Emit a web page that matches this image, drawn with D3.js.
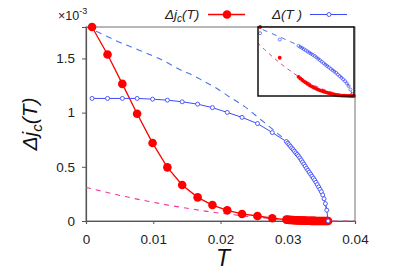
<!DOCTYPE html>
<html>
<head>
<meta charset="utf-8">
<script src="https://cdn.jsdelivr.net/npm/d3@7"></script>
<style>
  body { margin: 0; background: #fff; }
  svg { font-family: "Liberation Sans", Arial, sans-serif; }
  .axis text { font-size: 13.5px; fill: #222; }
  .axis path, .axis line { stroke: #555; }
</style>
</head>
<body>
<svg id="chart" width="395" height="276"></svg>
<script>
// temperatures of the sparse points and of the dense run close to Tc
var tSparse = [0.0009, 0.0032, 0.0054, 0.0076, 0.0099, 0.0121, 0.0143, 0.0166, 0.0188, 0.0210, 0.0232, 0.0255, 0.0277];
var tDense = [0.0298, 0.0300, 0.0302, 0.0304, 0.0306, 0.0308, 0.0310, 0.0312, 0.0314, 0.0316,
              0.0318, 0.0320, 0.0322, 0.0324, 0.0326, 0.0328, 0.0330, 0.0332, 0.0334, 0.0336,
              0.0338, 0.0340, 0.0342, 0.0344, 0.0346, 0.0348, 0.0350, 0.0352, 0.0354, 0.0356,
              0.0358, 0.0360];

// Δj_c(T), units of 1e-3
var jcSparse = [1.79, 1.536, 1.265, 0.989, 0.719, 0.495, 0.332, 0.218, 0.147, 0.099, 0.065, 0.046, 0.0255];
var jcDense = [0.0128, 0.0117, 0.0107, 0.0098, 0.0090, 0.0081, 0.0073, 0.0066, 0.0060, 0.0054,
               0.0048, 0.0043, 0.0038, 0.0034, 0.0030, 0.0026, 0.0023, 0.0019, 0.0016, 0.0013,
               0.0010, 0.0007, 0.0005, 0.0004, 0.0003, 0.0002, 0.0002, 0.0001, 0.0001, 0.0000,
               0.0000, 0.0000];

// Δ(T)
var gapSparse = [1.131, 1.131, 1.131, 1.131, 1.124, 1.115, 1.100, 1.078, 1.046, 1.002, 0.956, 0.899, 0.816];
var gapDense = [0.733, 0.718, 0.704, 0.689, 0.674, 0.659, 0.644, 0.629, 0.614, 0.600,
                0.582, 0.563, 0.544, 0.525, 0.506, 0.486, 0.468, 0.450, 0.432, 0.414,
                0.396, 0.378, 0.357, 0.336, 0.314, 0.292, 0.270, 0.240, 0.205, 0.160,
                0.100, 0.000];

// blue dashed curve
var tBlueFit = [0, 0.0026, 0.0048, 0.0072, 0.0095, 0.0118, 0.0140, 0.0163, 0.0172, 0.0190, 0.0213,
                0.0236, 0.0258, 0.0280, 0.0296, 0.0310, 0.0320, 0.0330, 0.0340, 0.0350, 0.0355, 0.0360];
var blueFit = [1.79, 1.719, 1.654, 1.594, 1.535, 1.470, 1.396, 1.332, 1.300, 1.240, 1.147,
               1.055, 0.945, 0.834, 0.747, 0.650, 0.570, 0.475, 0.385, 0.275, 0.190, 0];

// pink dashed curve
var tPinkFit = [0, 0.002, 0.004, 0.006, 0.008, 0.010, 0.012, 0.014, 0.016, 0.018, 0.020,
                0.022, 0.024, 0.026, 0.028, 0.030, 0.032, 0.034, 0.036, 0.038, 0.040];
var pinkFit = [0.310, 0.280, 0.251, 0.223, 0.197, 0.173, 0.149, 0.128, 0.108, 0.089, 0.072,
               0.057, 0.043, 0.031, 0.0207, 0.0123, 0.0059, 0.0017, 0, 0, 0];

var xTicks = [0, 0.01, 0.02, 0.03, 0.04];
var xTickLabels = ['0', '0.01', '0.02', '0.03', '0.04'];
var yTicks = [0, 0.5, 1, 1.5];
var yTickLabels = ['0', '0.5', '1', '1.5'];

var red = '#ff0000';
var blue = '#3d4cf5';
var blueDash = '#4a73ea';
var pink = '#f2389a';

var svg = d3.select('#chart');

var x = d3.scaleLinear().domain([0, 0.04]).range([86, 355]);
var y = d3.scaleLinear().domain([0, 1.79]).range([221, 27]);

var jcData = tSparse.concat(tDense).map((t, i) => [t, jcSparse.concat(jcDense)[i]]);
var gapData = tSparse.concat(tDense).map((t, i) => [t, gapSparse.concat(gapDense)[i]]);
var blueFitData = tBlueFit.map((t, i) => [t, blueFit[i]]);
var pinkFitData = tPinkFit.map((t, i) => [t, pinkFit[i]]);

// frame
svg.append('rect')
  .attr('x', 86).attr('y', 27)
  .attr('width', 269).attr('height', 194)
  .attr('fill', 'none')
  .attr('stroke', '#888')
  .attr('stroke-width', 1.2);

svg.append('g')
  .attr('class', 'axis')
  .attr('transform', 'translate(0,221)')
  .call(d3.axisBottom(x).tickValues(xTicks).tickSize(3).tickPadding(10)
    .tickFormat((d, i) => xTickLabels[i]));

svg.append('g')
  .attr('class', 'axis')
  .attr('transform', 'translate(86,0)')
  .call(d3.axisLeft(y).tickValues(yTicks).tickSize(4).tickPadding(7)
    .tickFormat((d, i) => yTickLabels[i]));

svg.selectAll('.axis .domain').attr('stroke', '#444').attr('stroke-width', 1.2);

var line = d3.line().x(d => x(d[0])).y(d => y(d[1]));
var smooth = d3.line().x(d => x(d[0])).y(d => y(d[1])).curve(d3.curveMonotoneX);

svg.append('path')
  .attr('d', smooth(blueFitData))
  .attr('fill', 'none').attr('stroke', blueDash)
  .attr('stroke-width', 1.1).attr('stroke-dasharray', '6,5');

svg.append('path')
  .attr('d', smooth(pinkFitData))
  .attr('fill', 'none').attr('stroke', pink)
  .attr('stroke-width', 1.1).attr('stroke-dasharray', '5,5');

// Δj_c series
svg.append('path')
  .attr('d', line(jcData))
  .attr('fill', 'none').attr('stroke', red).attr('stroke-width', 1.3);
svg.selectAll('circle.jc')
  .data(jcData)
  .enter().append('circle')
  .attr('class', 'jc')
  .attr('cx', d => x(d[0])).attr('cy', d => y(d[1]))
  .attr('r', 4.3).attr('fill', red);

// Δ series
svg.append('path')
  .attr('d', line(gapData))
  .attr('fill', 'none').attr('stroke', blue).attr('stroke-width', 1);
svg.selectAll('circle.gap')
  .data(gapData)
  .enter().append('circle')
  .attr('class', 'gap')
  .attr('cx', d => x(d[0])).attr('cy', d => y(d[1]))
  .attr('r', 2).attr('fill', 'white').attr('stroke', blue).attr('stroke-width', 0.9);

// inset, zoom near Tc
var ix = d3.scaleLinear().domain([0.02527, 0.0360]).range([258, 354]);
var iyRed = d3.scaleLinear().domain([0, 0.046]).range([96, 27]);
var iyBlue = d3.scaleLinear().domain([0.075, 0.98]).range([96, 27]);

svg.append('clipPath').attr('id', 'insetClip')
  .append('rect').attr('x', 258).attr('y', 27).attr('width', 96).attr('height', 69);

svg.append('rect')
  .attr('x', 258).attr('y', 27).attr('width', 96).attr('height', 69)
  .attr('fill', 'white');

var inset = svg.append('g').attr('clip-path', 'url(#insetClip)');
var redLine = d3.line().x(d => ix(d[0])).y(d => iyRed(d[1]));
var blueLine = d3.line().x(d => ix(d[0])).y(d => iyBlue(d[1]));

inset.append('path')
  .attr('d', blueLine.curve(d3.curveMonotoneX)(blueFitData))
  .attr('fill', 'none').attr('stroke', blueDash)
  .attr('stroke-width', 1).attr('stroke-dasharray', '5,5');
inset.append('path')
  .attr('d', redLine.curve(d3.curveMonotoneX)(pinkFitData))
  .attr('fill', 'none').attr('stroke', pink)
  .attr('stroke-width', 1).attr('stroke-dasharray', '4,4');

var inJc = jcData.filter(d => d[0] >= 0.0252);
var inGap = gapData.filter(d => d[0] >= 0.0252 && d[1] >= 0.075);

svg.selectAll('circle.ijc')
  .data(inJc)
  .enter().append('circle')
  .attr('class', 'ijc')
  .attr('cx', d => ix(d[0])).attr('cy', d => iyRed(d[1]))
  .attr('r', 1.9).attr('fill', red);

inset.selectAll('circle.igap')
  .data(inGap)
  .enter().append('circle')
  .attr('class', 'igap')
  .attr('cx', d => ix(d[0])).attr('cy', d => iyBlue(d[1]))
  .attr('r', 1.5).attr('fill', 'none').attr('stroke', blue).attr('stroke-width', 0.7);

svg.append('rect')
  .attr('x', 258).attr('y', 27).attr('width', 96).attr('height', 69)
  .attr('fill', 'none').attr('stroke', '#111').attr('stroke-width', 1.5);

// multiplier
var mult = svg.append('text').attr('x', 58).attr('y', 20).style('font-size', '12.5px').attr('fill', '#222');
mult.append('tspan').text('×10');
mult.append('tspan').attr('dy', -6).style('font-size', '9px').text('-3');

// legend
var leg1 = svg.append('text').attr('x', 165).attr('y', 19)
  .style('font-size', '13.5px').style('font-style', 'italic').attr('fill', '#222');
leg1.append('tspan').text('Δj');
leg1.append('tspan').attr('dy', 3).style('font-size', '10px').text('c');
leg1.append('tspan').attr('dy', -3).text('(T)');

svg.append('line').attr('x1', 208).attr('x2', 245).attr('y1', 14.5).attr('y2', 14.5)
  .attr('stroke', red).attr('stroke-width', 1.3);
svg.append('circle').attr('cx', 227).attr('cy', 14.5).attr('r', 4.3).attr('fill', red);

svg.append('text').attr('x', 272).attr('y', 19)
  .style('font-size', '13.5px').style('font-style', 'italic').attr('fill', '#222')
  .text('Δ(T )');
svg.append('line').attr('x1', 310).attr('x2', 347).attr('y1', 14.5).attr('y2', 14.5)
  .attr('stroke', blue).attr('stroke-width', 1);
svg.append('circle').attr('cx', 329).attr('cy', 14.5).attr('r', 2)
  .attr('fill', 'white').attr('stroke', blue).attr('stroke-width', 0.9);

// axis titles
var yl = svg.append('text')
  .attr('transform', 'translate(37,124) rotate(-90)')
  .attr('text-anchor', 'middle')
  .style('font-size', '21px').style('font-style', 'italic').attr('fill', '#111');
yl.append('tspan').text('Δj');
yl.append('tspan').attr('dy', 5).style('font-size', '15px').text('c');
yl.append('tspan').attr('dy', -5).text('(T)');

svg.append('text')
  .attr('x', 223).attr('y', 266)
  .attr('text-anchor', 'middle')
  .style('font-size', '23px').style('font-style', 'italic').attr('fill', '#111')
  .text('T');
</script>
</body>
</html>
